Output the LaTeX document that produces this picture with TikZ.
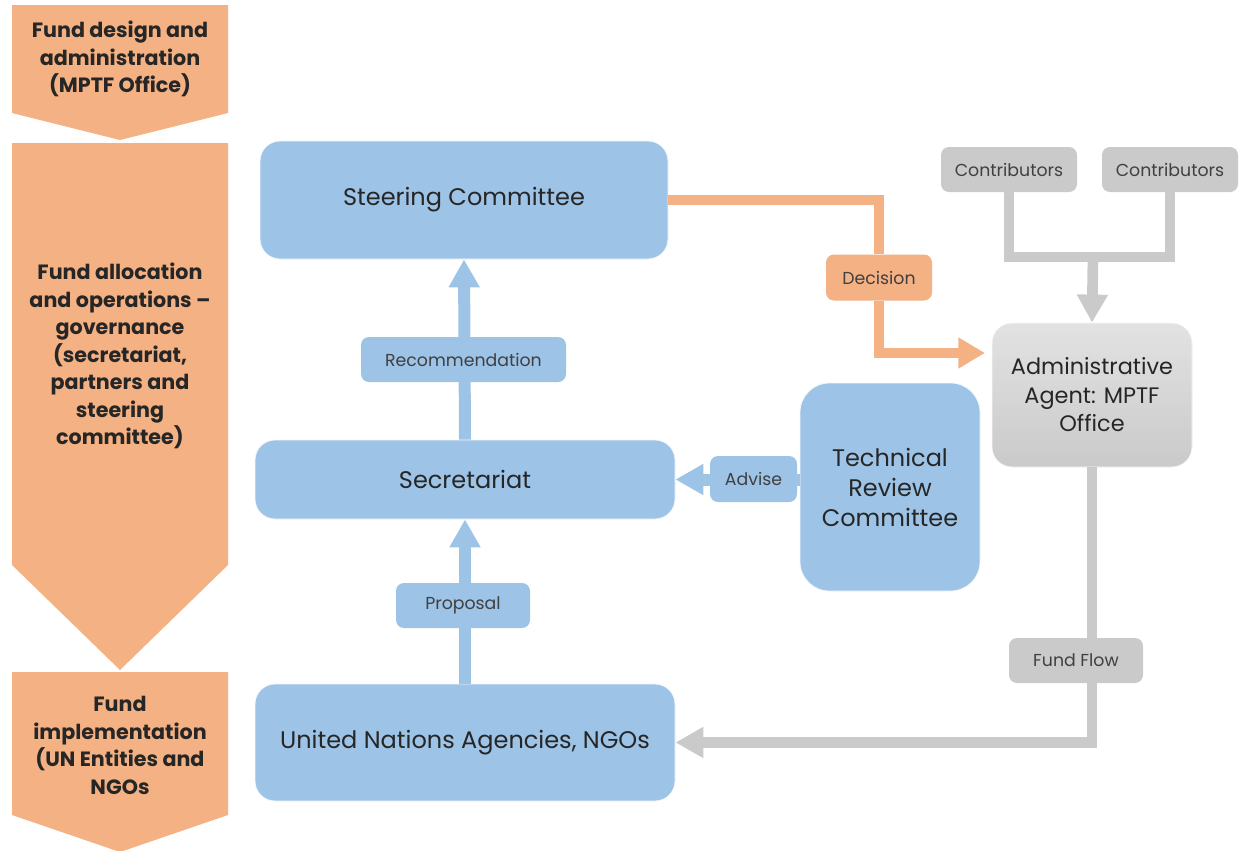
\documentclass[tikz,border=0pt]{standalone}
\usepackage{fontspec}
\setmainfont{Poppins}
\usetikzlibrary{arrows.meta,calc}
\definecolor{chev}{HTML}{F4B183}
\definecolor{bluebox}{HTML}{9DC3E6}
\definecolor{greybox}{HTML}{CACACA}
\definecolor{txt}{HTML}{262626}
\definecolor{lbltxt}{HTML}{404040}
\tikzset{
  chevshape/.style={fill=chev, draw=none},
  chevtext/.style={align=center, text=txt, font=\fontsize{15.5pt}{20.6pt}\selectfont\bfseries},
  mainbox/.style={fill=bluebox, draw=white!85!bluebox, line width=0.6pt, rounded corners=15pt, align=center, text=txt, font=\fontsize{18pt}{22pt}\selectfont},
  lblbox/.style={rounded corners=6pt, align=center, text=lbltxt, font=\fontsize{13pt}{15pt}\selectfont, inner sep=0pt},
  bluelbl/.style={lblbox, fill=bluebox},
  orangelbl/.style={lblbox, fill=chev},
  greylbl/.style={lblbox, fill=greybox},
  bluearrow/.style={draw=bluebox, line width=9pt, -{Triangle[width=22pt,length=21pt]}},
  orangeline/.style={draw=chev, line width=7.5pt},
  orangearrow/.style={orangeline, -{Triangle[width=22pt,length=20pt]}},
  greyline/.style={draw=greybox, line width=8pt},
  greyarrow/.style={greyline, -{Triangle[width=22pt,length=21pt]}},
}
\begin{document}
\begin{tikzpicture}[x=0.75pt, y=-0.75pt]
\useasboundingbox (0,0) rectangle (1239,850);
% left chevrons
\fill[chevshape] (12,5) -- (228,5) -- (228,113) -- (120,140) -- (12,113) -- cycle;
\fill[chevshape] (12,143) -- (228,143) -- (228,565) -- (120,670) -- (12,565) -- cycle;
\fill[chevshape] (12,672) -- (228,672) -- (228,815) -- (120,852) -- (12,815) -- cycle;
\node[chevtext] (t1) at (120,59) {Fund design and\\administration\\(MPTF Office)};
\node[chevtext] (t2) at (120,356) {Fund allocation\\and operations –\\governance\\(secretariat,\\partners and\\steering\\committee)};
\node[chevtext] (t3) at (120,745.5) {Fund\\implementation\\(UN Entities and\\NGOs};
% main boxes
\node[mainbox, minimum width=306pt, minimum height=88.5pt] (sc) at (464,200) {Steering Committee};
\node[mainbox, minimum width=315pt, minimum height=59.25pt] (sec) at (465,479.5) {Secretariat};
\node[mainbox, minimum width=315pt, minimum height=87.75pt] (un) at (465,742.5) {United Nations Agencies, NGOs};
\node[mainbox, rounded corners=22pt, minimum width=135pt, minimum height=156pt, font=\fontsize{18pt}{22.5pt}\selectfont] (trc) at (890,487) {Technical\\Review\\Committee};
\node[mainbox, draw=white!85!greybox, top color=greybox!55!white, bottom color=greybox, minimum width=150pt, minimum height=108pt, font=\fontsize{16.8pt}{21.4pt}\selectfont] (aa) at (1092,395) {Administrative\\Agent: MPTF\\Office};
\node[greylbl, minimum width=102pt, minimum height=33.75pt] (c1) at (1009,169.5) {Contributors};
\node[greylbl, minimum width=102pt, minimum height=33.75pt] (c2) at (1170,169.5) {Contributors};
% connectors
\draw[bluearrow] (sec.north) -- (sc.south);
\draw[bluearrow] (un.north) -- (sec.south);
\draw[bluearrow] (trc.west |- sec.east) -- (sec.east);
\node[bluelbl, minimum width=153.75pt, minimum height=33.75pt] (rec) at (463.5,359.5) {Recommendation};
\node[bluelbl, minimum width=100.5pt, minimum height=33.75pt] (prop) at (463,605.5) {Proposal};
\node[bluelbl, minimum width=65.25pt, minimum height=34.5pt] (adv) at (753.5,479) {Advise};
% decision
\node[orangelbl, minimum width=79.5pt, minimum height=34.5pt] (dec) at (879,277.5) {Decision};
\coordinate (decend) at (985,353);
\draw[orangeline] (sc.east) -| (dec.north);
\draw[orangearrow] (dec.south) |- (decend);
% contributors
\coordinate (join) at (1093,257);
\draw[greyline] (c1.south) |- (join) -| (c2.south);
\draw[greyarrow] (join) -- (aa.north);
% fund flow
\node[greylbl, minimum width=100.5pt, minimum height=33.75pt] (ff) at (1076,660.5) {Fund Flow};
\draw[greyline] (aa.south) -- (aa.south |- ff.north);
\draw[greyarrow] (aa.south |- ff.south) |- (un.east);
\end{tikzpicture}
\end{document}
